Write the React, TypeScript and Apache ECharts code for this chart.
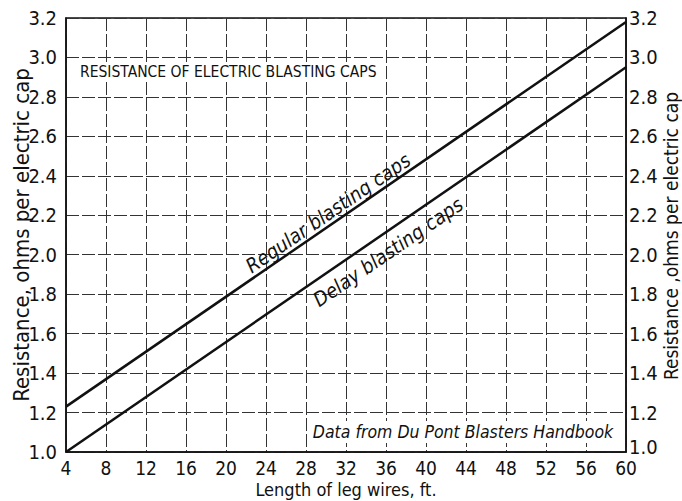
import React, { useEffect, useRef } from "react";
import * as echarts from "echarts";

// ---- data ----
const lengthFt = [4, 60];
const regularOhms = [1.23, 3.18];
const delayOhms = [1.0, 2.95];
const xMin = 4;
const xMax = 60;
const xStep = 4;
const yMin = 1.0;
const yMax = 3.2;
const yStep = 0.2;
const chartTitle = "RESISTANCE OF ELECTRIC BLASTING CAPS";
const regularLabel = "Regular blasting caps";
const delayLabel = "Delay blasting caps";
const sourceNote = "Data from Du Pont Blasters Handbook";
const xAxisTitle = "Length of leg wires, ft.";
const yAxisTitle = "Resistance, ohms per electric cap";
const yAxisTitleRight = "Resistance ,ohms per electric cap";

const FONT = "'DejaVu Sans Condensed', 'DejaVu Sans', sans-serif";
const INK = "#111";

export default function App() {
  const ref = useRef<HTMLDivElement>(null);
  useEffect(() => {
    if (!ref.current) return;
    const chart = echarts.init(ref.current, undefined, { renderer: "svg" });
    const regData = lengthFt.map((x, i) => [x, regularOhms[i]]);
    const delData = lengthFt.map((x, i) => [x, delayOhms[i]]);
    const angle = (34.4 * Math.PI) / 180;
    const fmt = (v: number) => v.toFixed(1);
    const grid = {
      left: 66,
      right: 56,
      top: 18,
      bottom: 49,
      containLabel: false,
      outerBoundsMode: "none",
      show: true,
      borderColor: INK,
      borderWidth: 1.5,
      backgroundColor: "#fff",
    };
    const splitStyle = { color: "#333", width: 1, type: [13, 3] as any };
    const graphics: any[] = [
      {
        type: "text",
        left: 76,
        top: 62,
        z: 10,
        style: {
          text: chartTitle,
          fontFamily: FONT,
          fontSize: 15.5,
          fill: INK,
          backgroundColor: "#fff",
          padding: [2, 4],
        },
      },
      {
        type: "text",
        x: 328,
        y: 213,
        rotation: angle,
        z: 10,
        style: {
          text: regularLabel,
          fontFamily: FONT,
          fontSize: 20,
          fontStyle: "italic",
          fill: INK,
          align: "center",
          verticalAlign: "middle",
        },
      },
      {
        type: "text",
        x: 388,
        y: 252,
        rotation: angle,
        z: 10,
        style: {
          text: delayLabel,
          fontFamily: FONT,
          fontSize: 20,
          fontStyle: "italic",
          fill: INK,
          align: "center",
          verticalAlign: "middle",
        },
      },
      {
        type: "text",
        x: 463,
        y: 432,
        z: 10,
        style: {
          text: sourceNote,
          fontFamily: FONT,
          fontSize: 17.5,
          fontStyle: "italic",
          fill: INK,
          align: "center",
          verticalAlign: "middle",
          backgroundColor: "#fff",
          padding: [2, 4],
        },
      },
      {
        type: "text",
        x: 671,
        y: 236,
        rotation: Math.PI / 2,
        z: 10,
        style: {
          text: yAxisTitleRight,
          fontFamily: FONT,
          fontSize: 19,
          fill: INK,
          align: "center",
          verticalAlign: "middle",
        },
      },
    ];
    chart.setOption({
      animation: false,
      backgroundColor: "#fff",
      grid,
      xAxis: {
        type: "value",
        min: xMin,
        max: xMax,
        interval: xStep,
        name: xAxisTitle,
        nameLocation: "middle",
        nameGap: 28,
        nameMoveOverlap: false,
        nameTextStyle: { fontFamily: FONT, fontSize: 18, lineHeight: 18, color: INK },
        axisLine: { show: true, lineStyle: { color: INK, width: 1.5 } },
        axisTick: { show: false },
        axisLabel: {
          fontFamily: FONT,
          fontSize: 19,
          lineHeight: 19,
          color: INK,
          margin: 6,
        },
        splitLine: { show: true, lineStyle: splitStyle },
      },
      yAxis: [
        {
          type: "value",
          min: yMin,
          max: yMax,
          interval: yStep,
          name: yAxisTitle,
          nameLocation: "middle",
          nameGap: 34,
          nameRotate: 90,
          nameMoveOverlap: false,
          nameTextStyle: { fontFamily: FONT, fontSize: 22, color: INK },
          axisLine: { show: true, lineStyle: { color: INK, width: 1.5 } },
          axisTick: { show: false },
          axisLabel: {
            fontFamily: FONT,
            fontSize: 20,
            lineHeight: 16,
            color: INK,
            margin: 9,
            formatter: fmt,
          },
          splitLine: { show: true, lineStyle: splitStyle },
        },
        {
          type: "value",
          position: "right",
          min: yMin,
          max: yMax,
          interval: yStep,
          axisLine: { show: true, lineStyle: { color: INK, width: 1.5 } },
          axisTick: { show: false },
          axisLabel: {
            fontFamily: FONT,
            fontSize: 20,
            lineHeight: 16,
            color: INK,
            margin: 3,
            showMinLabel: false,
            formatter: fmt,
          },
          showMinLabel: false,
          splitLine: { show: false },
        },
      ],
      series: [
        {
          name: regularLabel,
          type: "line",
          data: regData,
          showSymbol: false,
          lineStyle: { color: INK, width: 2.5 },
          z: 5,
        },
        {
          name: delayLabel,
          type: "line",
          data: delData,
          showSymbol: false,
          lineStyle: { color: INK, width: 2.5 },
          z: 5,
        },
      ],
      graphic: graphics,
    });
    // right-axis bottom label, nudged up slightly (as in the original) so it clears "60"
    const px = chart.convertToPixel({ gridIndex: 0 }, [xMax, yMin]) as number[];
    chart.setOption({
      graphic: [
        ...graphics,
        {
          type: "text",
          x: px[0] + 3,
          y: px[1] - 5,
          z: 10,
          style: {
            text: fmt(yMin),
            fontFamily: FONT,
            fontSize: 20,
            fill: INK,
            align: "left",
            verticalAlign: "middle",
          },
        },
      ],
    });
    return () => chart.dispose();
  }, []);
  return (
    <div
      ref={ref}
      style={{ position: "fixed", left: 0, top: 0, width: 682, height: 501 }}
    />
  );
}
